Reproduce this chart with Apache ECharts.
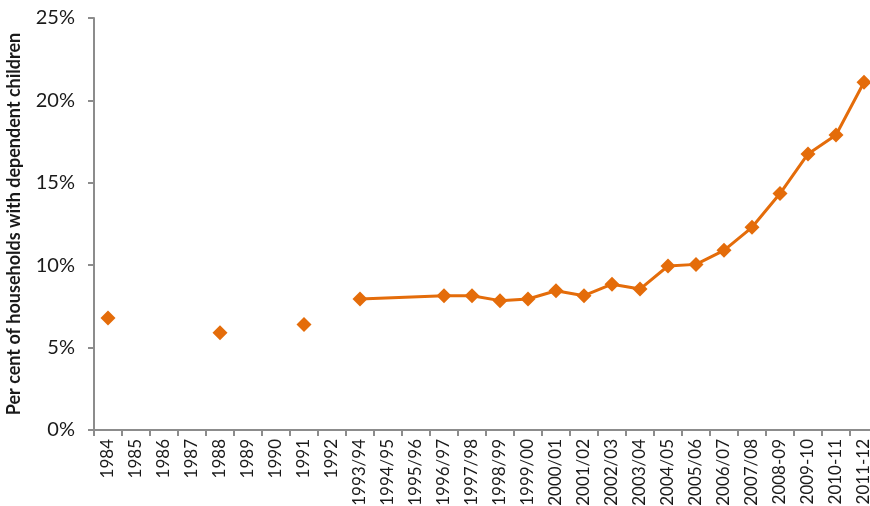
<!DOCTYPE html>
<html>
<head>
<meta charset="utf-8">
<script src="https://cdn.jsdelivr.net/npm/echarts@6/dist/echarts.min.js"></script>
<style>html,body{margin:0;padding:0;background:#fff}#c{width:870px;height:506px}</style>
</head>
<body>
<div id="c"></div>
<script>
var categories = ['1984','1985','1986','1987','1988','1989','1990','1991','1992','1993/94','1994/95','1995/96','1996/97','1997/98','1998/99','1999/00','2000/01','2001/02','2002/03','2003/04','2004/05','2005/06','2006/07','2007/08','2008-09','2009-10','2010-11','2011-12'];
var earlyValues = [6.8,null,null,null,5.9,null,null,6.4,null,null,null,null,null,null,null,null,null,null,null,null,null,null,null,null,null,null,null,null];
var laterValues = [null,null,null,null,null,null,null,null,null,7.95,null,null,8.15,8.15,7.85,7.95,8.45,8.15,8.85,8.55,9.95,10.05,10.9,12.3,14.35,16.75,17.9,21.1];
var yTicks = [0,5,10,15,20,25];
var color = '#E46C0A';
var chart = echarts.init(document.getElementById('c'));
chart.setOption({
  animation: false,
  grid: {left: 94, right: -8, top: 18, bottom: 76, outerBoundsMode: 'none', containLabel: false},
  xAxis: {
    type: 'category',
    data: categories,
    boundaryGap: true,
    axisLine: {lineStyle: {color: '#8c8c8c', width: 2}},
    axisTick: {show: true, alignWithLabel: false, length: 6, lineStyle: {color: '#8c8c8c', width: 2}},
    axisLabel: {rotate: 90, interval: 0, color: '#1a1a1a', fontSize: 17, fontFamily: 'Lato', margin: 9}
  },
  yAxis: {
    type: 'value',
    min: 0, max: 25, interval: 5,
    name: 'Per cent of households with dependent children',
    nameLocation: 'middle',
    nameGap: 71,
    nameTextStyle: {fontWeight: 'bold', fontSize: 18, fontFamily: 'Lato', color: '#1a1a1a'},
    splitLine: {show: false},
    axisLine: {show: true, lineStyle: {color: '#8c8c8c', width: 2}},
    axisTick: {show: true, length: 6, lineStyle: {color: '#8c8c8c', width: 2}},
    axisLabel: {formatter: function(v){return yTicks.indexOf(v) >= 0 ? v + '%' : '';}, color: '#1a1a1a', fontSize: 20, fontFamily: 'Lato', margin: 19}
  },
  series: [
    {type: 'line', data: earlyValues, symbol: 'diamond', symbolSize: 15, showSymbol: true, lineStyle: {width: 0, opacity: 0}, itemStyle: {color: color}, connectNulls: false},
    {type: 'line', data: laterValues, symbol: 'diamond', symbolSize: 15, showSymbol: true, lineStyle: {width: 3, color: color}, itemStyle: {color: color}, connectNulls: true}
  ]
});
</script>
</body>
</html>
